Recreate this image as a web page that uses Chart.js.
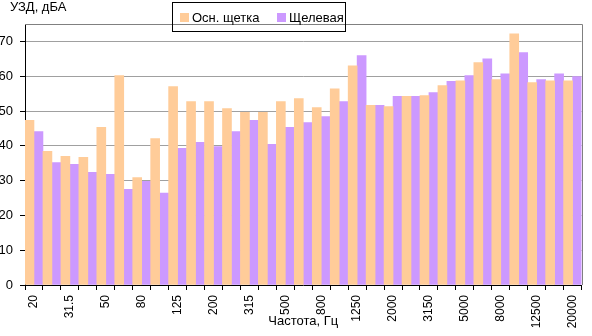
<!DOCTYPE html>
<html>
<head>
<meta charset="utf-8">
<script src="https://cdn.jsdelivr.net/npm/chart.js@4/dist/chart.umd.min.js"></script>
<style>
  html, body { margin: 0; padding: 0; background: #fff; }
  #wrap { width: 592px; height: 336px; position: relative; }
</style>
</head>
<body>
<div id="wrap"><canvas id="chart"></canvas></div>
<script>
// 1/3-octave band centre frequencies, Hz
const frequencies = ['20', '25', '31.5', '40', '50', '63', '80', '100', '125', '160',
  '200', '250', '315', '400', '500', '630', '800', '1000', '1250', '1600',
  '2000', '2500', '3150', '4000', '5000', '6300', '8000', '10000', '12500', '16000', '20000']

// sound pressure level, dBA
const mainBrush = [47.3, 38.4, 37.0, 36.7, 45.3, 60.2, 30.9, 42.1, 57.0, 52.7,
  52.7, 50.7, 49.6, 49.6, 52.7, 53.6, 51.0, 56.4, 63.0, 51.6,
  51.3, 54.2, 54.4, 57.3, 58.7, 63.9, 59.0, 72.2, 58.2, 58.7, 58.7]
const crevice = [44.1, 35.2, 34.7, 32.4, 31.8, 27.5, 29.8, 26.4, 39.3, 41.0,
  39.8, 44.1, 47.3, 40.4, 45.3, 46.7, 48.4, 52.7, 65.9, 51.6,
  54.2, 54.2, 55.3, 58.5, 60.2, 65.0, 60.7, 66.8, 59.0, 60.7, 59.9]

const seriesNames = ['Осн. щетка', 'Щелевая']
const seriesColors = ['#ffcc99', '#cc99ff']

const FONT = "'Liberation Sans', Arial, sans-serif"

// plot frame, legend box and the y axis caption
const decorations = {
  id: 'decorations',
  beforeDatasetsDraw(chart) {
    const { ctx, chartArea: a } = chart
    ctx.save()
    ctx.strokeStyle = '#808080'
    ctx.lineWidth = 1
    ctx.beginPath()
    ctx.moveTo(a.left, Math.round(a.top) + 0.5)
    ctx.lineTo(Math.round(a.right) + 0.5, Math.round(a.top) + 0.5)
    ctx.lineTo(Math.round(a.right) + 0.5, a.bottom)
    ctx.stroke()
    ctx.restore()
  },
  afterDraw(chart) {
    const { ctx } = chart
    ctx.save()
    ctx.font = '13px ' + FONT
    ctx.fillStyle = '#000'
    ctx.textBaseline = 'alphabetic'
    ctx.fillText('УЗД, дБА', 10, 11)

    // legend
    ctx.strokeStyle = '#000'
    ctx.lineWidth = 1
    ctx.strokeRect(172.5, 2.5, 173, 29)
    let x = 180
    chart.data.datasets.forEach(ds => {
      ctx.fillStyle = ds.backgroundColor
      ctx.fillRect(x, 13, 9, 9)
      ctx.fillStyle = '#000'
      ctx.fillText(ds.label, x + 12, 22)
      x += 97
    })
    ctx.restore()
  }
}

new Chart(document.getElementById('chart'), {
  type: 'bar',
  data: {
    labels: frequencies,
    datasets: seriesNames.map((name, i) => ({
      label: name,
      data: i === 0 ? mainBrush : crevice,
      backgroundColor: seriesColors[i],
      borderWidth: 0,
      categoryPercentage: 1,
      barPercentage: 1
    }))
  },
  options: {
    responsive: true,
    maintainAspectRatio: false,
    animation: false,
    layout: { padding: { top: 24, right: 1, left: 0, bottom: 0 } },
    plugins: {
      legend: { display: false },
      tooltip: { enabled: false }
    },
    scales: {
      x: {
        offset: true,
        afterFit: scale => { scale.height = 51 },
        grid: {
          offset: true,
          drawOnChartArea: false,
          drawTicks: true,
          tickLength: 5,
          tickColor: '#000'
        },
        border: { color: '#000', width: 1 },
        ticks: {
          autoSkip: false,
          minRotation: 90,
          maxRotation: 90,
          padding: 5,
          color: '#000',
          font: { family: FONT, size: 12 },
          callback: (v, i) => (i % 2 ? '' : frequencies[i])
        },
        title: {
          display: true,
          text: 'Частота, Гц',
          color: '#000',
          font: { family: FONT, size: 13 },
          padding: { top: 0, bottom: 7 }
        }
      },
      y: {
        min: 0,
        max: 75,
        afterFit: scale => { scale.width = 25 },
        grid: {
          color: ctx => (ctx.tick && ctx.tick.value === 0 ? 'rgba(0,0,0,0)' : '#a0a0a0'),
          tickColor: '#000',
          tickLength: 5
        },
        border: { color: '#000', width: 1 },
        ticks: {
          stepSize: 10,
          includeBounds: false,
          padding: 7,
          color: '#000',
          font: { family: FONT, size: 13 }
        }
      }
    }
  },
  plugins: [decorations]
})
</script>
</body>
</html>
